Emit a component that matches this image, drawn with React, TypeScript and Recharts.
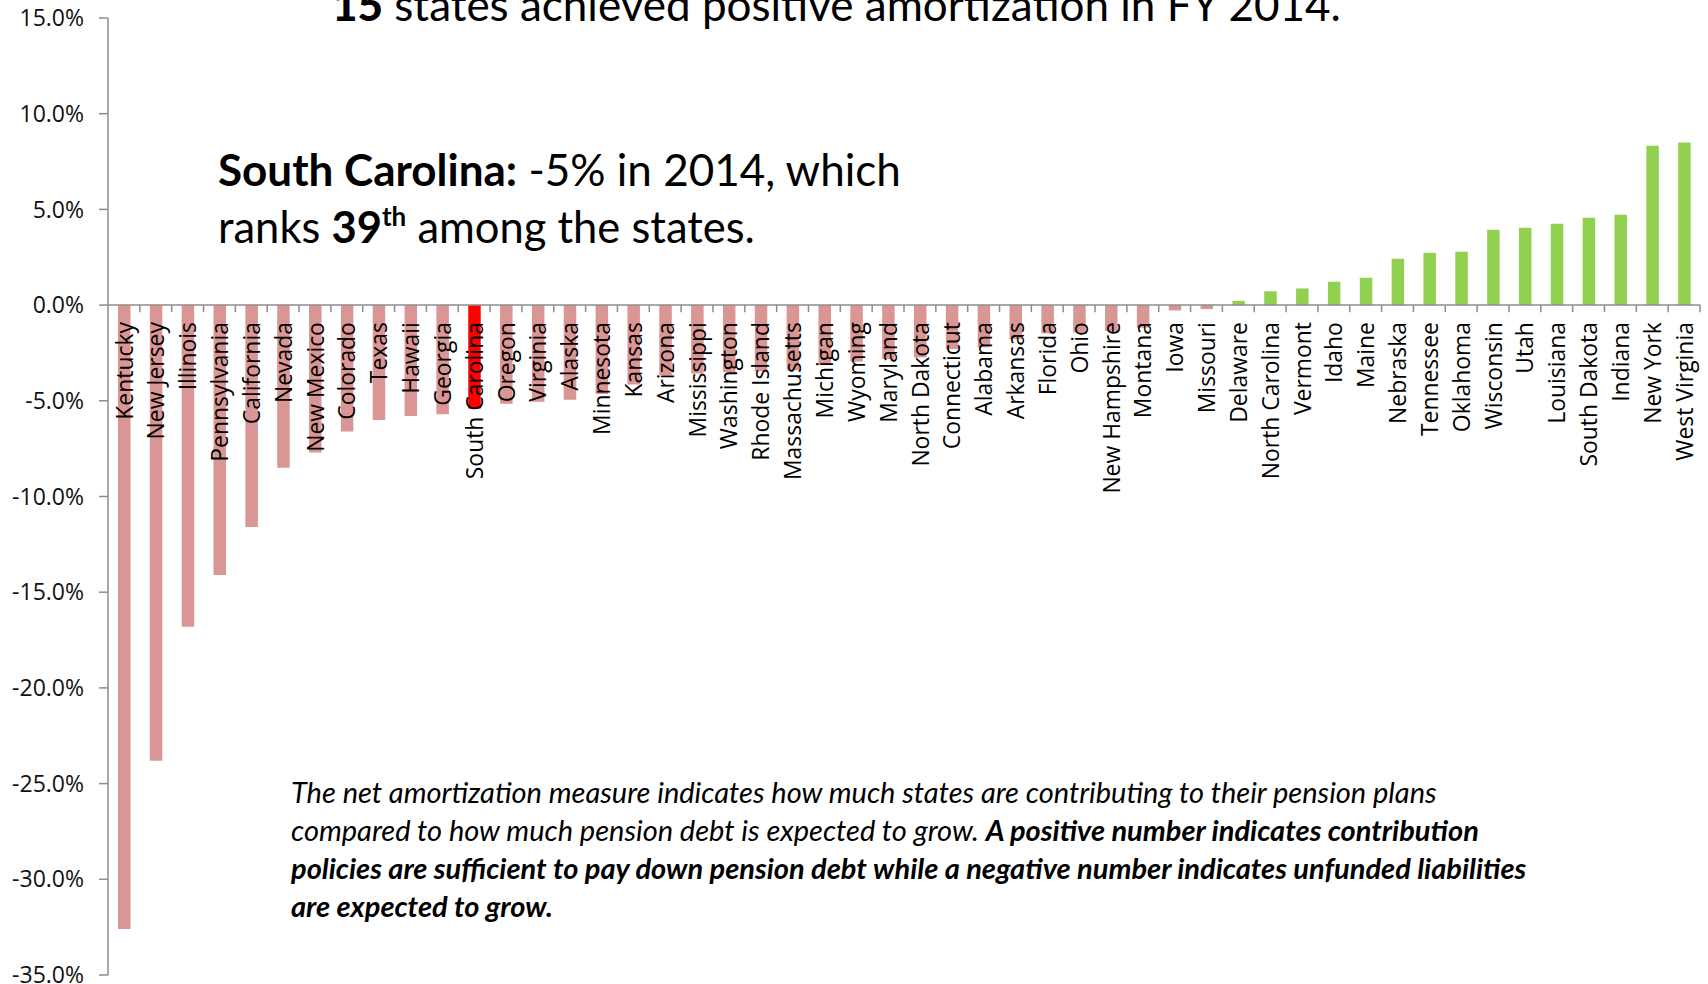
import React from "react";
import { BarChart, Bar, XAxis, YAxis, Cell, LabelList, ReferenceLine } from "recharts";

const states = [
  "Kentucky", "New Jersey", "Illinois", "Pennsylvania", "California", "Nevada", "New Mexico", "Colorado", "Texas", "Hawaii",
  "Georgia", "South Carolina", "Oregon", "Virginia", "Alaska", "Minnesota", "Kansas", "Arizona", "Mississippi", "Washington",
  "Rhode Island", "Massachusetts", "Michigan", "Wyoming", "Maryland", "North Dakota", "Connecticut", "Alabama", "Arkansas", "Florida",
  "Ohio", "New Hampshire", "Montana", "Iowa", "Missouri", "Delaware", "North Carolina", "Vermont", "Idaho", "Maine",
  "Nebraska", "Tennessee", "Oklahoma", "Wisconsin", "Utah", "Louisiana", "South Dakota", "Indiana", "New York", "West Virginia",
];

const netAmortization = [
  -32.6, -23.8, -16.8, -14.1, -11.6, -8.5, -7.7, -6.6, -6.0, -5.8,
  -5.7, -5.4, -5.15, -5.05, -4.95, -4.65, -4.15, -3.65, -3.57, -3.5,
  -3.45, -3.4, -3.1, -2.95, -2.82, -2.73, -2.3, -2.2, -1.78, -1.48,
  -1.43, -1.36, -1.18, -0.28, -0.21, 0.22, 0.72, 0.87, 1.22, 1.43,
  2.42, 2.73, 2.79, 3.94, 4.04, 4.25, 4.56, 4.72, 8.33, 8.49,
];

const yTicks = [-35, -30, -25, -20, -15, -10, -5, 0, 5, 10, 15];
const highlightState = "South Carolina";

const data = states.map((state, i) => ({ state, value: netAmortization[i] }));

const NEG = "#D99694";
const POS = "#92D050";
const HIGHLIGHT = "#FF0000";
const AXIS = "#8C8C8C";
const LABEL_FONT = "'Open Sans', sans-serif";
const TEXT_FONT = "Lato, 'Noto Sans', sans-serif";

const StateLabel = (props: any) => {
  const vb = props.viewBox && props.viewBox.width != null ? props.viewBox : props;
  const { x, y, width, height } = vb;
  const name = props.value as string;
  const v = netAmortization[states.indexOf(name)];
  const top = Math.min(y, y + height);
  const bottom = Math.max(y, y + height);
  const zeroY = v < 0 ? top : bottom;
  const cx = x + width / 2;
  return (
    <text
      transform={`translate(${cx},${zeroY + 17}) rotate(-90)`}
      textAnchor="end"
      dy="0.36em"
      fontFamily={LABEL_FONT}
      fontSize={22.9}
      fill="#000"
    >
      {name}
    </text>
  );
};

export default function App() {
  return (
    <div style={{ position: "absolute", left: 0, top: 0, width: 1708, height: 984, background: "#fff" }}>
      <BarChart
        width={1708}
        height={984}
        data={data}
        margin={{ top: 18, right: 8, bottom: 9, left: 8 }}
        barCategoryGap={0}
      >
        <XAxis dataKey="state" hide />
        <YAxis
          width={100}
          domain={[-35, 15]}
          ticks={yTicks}
          interval={0}
          allowDataOverflow
          tickFormatter={(v: number) => `${v.toFixed(1)}%`}
          axisLine={{ stroke: AXIS, strokeWidth: 1.5 }}
          tickLine={{ stroke: AXIS, strokeWidth: 1.5 }}
          tickSize={9}
          tickMargin={15}
          tick={{ fill: "#111", fontSize: 23, fontFamily: LABEL_FONT }}
        />
        <Bar dataKey="value" barSize={12.5} isAnimationActive={false}>
          {data.map((d) => (
            <Cell key={d.state} fill={d.state === highlightState ? HIGHLIGHT : d.value < 0 ? NEG : POS} />
          ))}
          <LabelList dataKey="state" content={StateLabel} />
        </Bar>
        <ReferenceLine y={0} stroke={AXIS} strokeWidth={1.5} />
        {states.map((s) => (
          <ReferenceLine
            key={`t-${s}`}
            segment={[{ x: s, y: 0 }, { x: s, y: -0.37 }]}
            position="end"
            stroke={AXIS}
            strokeWidth={1.5}
          />
        ))}
      </BarChart>
      <svg
        width={1708}
        height={984}
        style={{ position: "absolute", left: 0, top: 0, pointerEvents: "none" }}
      >
        <text x={332} y={21} fontFamily={TEXT_FONT} fontSize={44} fill="#000">
          <tspan fontWeight={900}>15</tspan> states achieved positive amortization in FY 2014.
        </text>
        <text x={218} y={186} fontFamily={TEXT_FONT} fontSize={44} fill="#000">
          <tspan fontWeight={700}>South Carolina:</tspan> -5% in 2014, which
        </text>
        <text x={218} y={243} fontFamily={TEXT_FONT} fontSize={43.5} fill="#000">
          ranks <tspan fontWeight={700}>39</tspan>
          <tspan fontWeight={700} fontSize={26} dy={-17}>th</tspan>
          <tspan dy={17}> among the states.</tspan>
        </text>
        <g fontFamily={TEXT_FONT} fontSize={29} fontStyle="italic" fill="#000">
          <text x={291} y={803}>
            The net amortization measure indicates how much states are contributing to their pension plans
          </text>
          <text x={291} y={841}>
            compared to how much pension debt is expected to grow.{" "}
            <tspan fontWeight={700}>A positive number indicates contribution</tspan>
          </text>
          <text x={291} y={879} fontWeight={700}>
            policies are sufficient to pay down pension debt while a negative number indicates unfunded liabilities
          </text>
          <text x={291} y={917} fontWeight={700}>
            are expected to grow.
          </text>
        </g>
      </svg>
    </div>
  );
}
